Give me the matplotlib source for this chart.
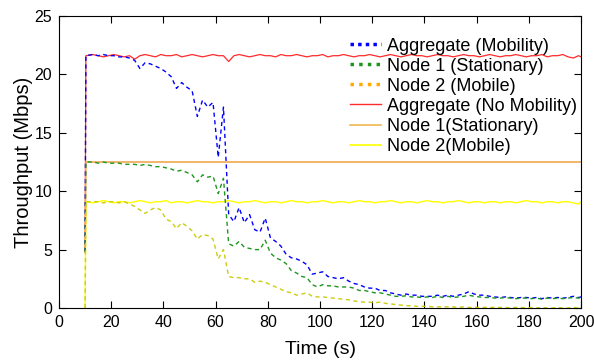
import matplotlib
matplotlib.use("Agg")
import matplotlib.pyplot as plt
from matplotlib.lines import Line2D

plt.rcParams['font.family'] = ['Liberation Sans', 'DejaVu Sans']

# time axis (s): traffic starts at 10 s, then samples every 2 s
time = [10, 10.3] + list(range(13, 200, 2)) + [200]

# dashed series: with mobility
agg_mob = [
    4.8, 21.6, 21.7, 21.6, 21.7, 21.6, 21.6, 21.5, 21.5, 21.4,
    21.2, 20.5, 21.0, 20.9, 20.7, 20.5, 20.2, 19.8, 18.8, 19.3,
    18.9, 18.6, 16.4, 17.8, 17.2, 17.6, 12.9, 17.2, 8.0, 7.4,
    8.6, 7.3, 8.0, 6.7, 6.5, 7.7, 6.0, 5.7, 5.3, 4.6,
    4.3, 4.2, 4.0, 3.7, 2.9, 3.0, 3.1, 2.7, 2.6, 2.5,
    2.6, 2.3, 2.1, 2.0, 1.8, 1.7, 1.7, 1.5, 1.5, 1.3,
    1.2, 1.1, 1.2, 1.1, 1.1, 1.0, 1.0, 1.0, 1.1, 1.0,
    1.1, 1.0, 1.1, 1.2, 1.4, 1.2, 1.1, 1.1, 1.0, 0.95,
    0.9, 0.95, 0.9, 0.85, 0.9, 0.9, 0.85, 0.9, 0.8, 0.9,
    0.85, 0.9, 0.85, 0.9, 1.0, 0.9, 0.95,
]
node1_mob = [
    4.8, 12.5, 12.5, 12.4, 12.5, 12.4, 12.4, 12.4, 12.3, 12.3,
    12.3, 12.2, 12.3, 12.2, 12.1, 12.1, 12.0, 11.9, 11.7, 11.8,
    11.6, 11.4, 10.8, 11.4, 11.2, 11.3, 9.8, 11.1, 5.5, 5.3,
    5.7, 5.2, 5.1, 5.0, 5.0, 5.8, 4.7, 4.3, 4.1, 3.8,
    3.2, 3.0, 2.7, 2.6, 2.0, 1.8, 2.0, 1.9, 1.9, 1.8,
    1.8, 1.8, 1.7, 1.5, 1.5, 1.4, 1.3, 1.3, 1.2, 1.1,
    1.0, 1.0, 1.05, 0.95, 0.95, 0.9, 0.95, 0.9, 1.0, 0.9,
    1.0, 0.9, 0.95, 1.0, 1.1, 1.0, 0.95, 0.9, 0.9, 0.85,
    0.85, 0.9, 0.85, 0.8, 0.85, 0.85, 0.8, 0.85, 0.75, 0.85,
    0.8, 0.85, 0.8, 0.85, 0.9, 0.85, 0.9,
]
node2_mob = [
    0.0, 9.1, 9.1, 9.1, 9.0, 9.1, 9.1, 9.0, 9.1, 8.9,
    8.7, 8.4, 8.1, 8.4, 8.6, 8.4, 7.6, 7.4, 6.8, 7.3,
    7.0, 6.6, 5.9, 6.3, 6.2, 5.9, 4.2, 5.0, 2.7, 2.6,
    2.6, 2.5, 2.5, 2.2, 2.3, 2.2, 2.0, 1.8, 1.6, 1.4,
    1.3, 1.1, 1.2, 1.3, 1.0, 0.95, 0.95, 0.9, 0.85, 0.8,
    0.75, 0.7, 0.6, 0.55, 0.5, 0.5, 0.45, 0.5, 0.4, 0.35,
    0.3, 0.25, 0.2, 0.2, 0.15, 0.15, 0.15, 0.1, 0.1, 0.1,
    0.1, 0.1, 0.05, 0.1, 0.05, 0.05, 0.05, 0.05, 0.05, 0.05,
    0.05, 0.05, 0.0, 0.05, 0.05, 0.0, 0.05, 0.0, 0.05, 0.0,
    0.0, 0.05, 0.0, 0.0, 0.05, 0.0, 0.0,
]

# solid series: no mobility
agg_nomob = [
    4.8, 21.6, 21.7, 21.6, 21.5, 21.6, 21.7, 21.6, 21.5, 21.6,
    21.3, 21.6, 21.7, 21.6, 21.5, 21.7, 21.6, 21.6, 21.7, 21.5,
    21.6, 21.7, 21.6, 21.5, 21.6, 21.7, 21.6, 21.6, 21.1, 21.6,
    21.7, 21.6, 21.5, 21.6, 21.7, 21.6, 21.6, 21.5, 21.7, 21.6,
    21.6, 21.7, 21.6, 21.5, 21.6, 21.6, 21.7, 21.5, 21.6, 21.6,
    21.7, 21.6, 21.5, 21.6, 21.6, 21.7, 21.6, 21.5, 21.6, 21.7,
    21.6, 21.5, 21.6, 21.7, 21.6, 21.6, 21.5, 21.6, 21.7, 21.6,
    21.6, 21.5, 21.6, 21.7, 21.6, 21.6, 21.5, 21.6, 21.7, 21.6,
    21.5, 21.6, 21.6, 21.7, 21.6, 21.5, 21.6, 21.6, 21.7, 21.5,
    21.6, 21.6, 21.7, 21.5, 21.4, 21.6, 21.5,
]
node1_nomob = [4.8] + [12.5] * 96
node2_nomob = [
    0.0, 9.1, 9.0, 9.1, 9.2, 9.1, 9.0, 9.1, 9.1, 9.0,
    9.1, 9.2, 9.1, 9.0, 9.1, 9.1, 9.2, 9.0, 9.1, 9.1,
    9.0, 9.1, 9.2, 9.1, 9.1, 9.0, 9.1, 9.1, 9.2, 9.1,
    9.0, 9.1, 9.1, 9.2, 9.1, 9.0, 9.1, 9.1, 9.0, 9.1,
    9.2, 9.1, 9.1, 9.0, 9.1, 9.1, 9.2, 9.1, 9.0, 9.1,
    9.1, 9.0, 9.1, 9.2, 9.1, 9.1, 9.0, 9.1, 9.1, 9.2,
    9.1, 9.0, 9.1, 9.1, 9.0, 9.1, 9.2, 9.1, 9.1, 9.0,
    9.1, 9.1, 9.2, 9.1, 9.0, 9.1, 9.1, 9.0, 9.1, 9.1,
    9.0, 9.1, 9.1, 9.0, 9.1, 9.2, 9.1, 9.1, 9.0, 9.1,
    9.1, 9.0, 9.1, 9.1, 9.0, 8.9, 9.1,
]

labels = ["Aggregate (Mobility)", "Node 1 (Stationary)", "Node 2 (Mobile)",
          "Aggregate (No Mobility)", "Node 1(Stationary)", "Node 2(Mobile)"]

fig = plt.figure(figsize=(5.94, 3.6), dpi=100)
ax = fig.add_axes([0.0993, 0.1444, 0.879, 0.8112])

ax.plot(time, agg_nomob, color="#ff2a2a", lw=0.9)
ax.plot(time, node1_nomob, color="#f0a850", lw=1.2)
ax.plot(time, node2_nomob, color="#ffff00", lw=1.0)
ax.plot(time, agg_mob, color="#0000ff", lw=1.0, ls=(0, (3, 2.5)))
ax.plot(time, node1_mob, color="#1e961e", lw=1.0, ls=(0, (3, 2.5)))
ax.plot(time, node2_mob, color="#cccc10", lw=1.0, ls=(0, (3, 2.5)))

ax.set_xlim(0, 200)
ax.set_ylim(0, 25)
ax.set_xticks(range(0, 201, 20))
ax.set_yticks(range(0, 26, 5))
ax.tick_params(direction="in", top=True, right=True, labelsize=11.5, length=5, pad=5)
ax.set_xlabel("Time (s)", fontsize=14, labelpad=8)
ax.set_ylabel("Throughput (Mbps)", fontsize=14.5, labelpad=1)

# legend with dotted handles for the mobility series
handles = [
    Line2D([], [], color="#0000ff", lw=2.5, ls=(0, (1, 1.2))),
    Line2D([], [], color="#1e961e", lw=2.5, ls=(0, (1, 1.5))),
    Line2D([], [], color="#ffaa00", lw=2.5, ls=(0, (1, 1.5))),
    Line2D([], [], color="#ff2a2a", lw=1.0),
    Line2D([], [], color="#f0b850", lw=1.2),
    Line2D([], [], color="#ffff00", lw=1.2),
]
ax.legend(handles, labels, loc="upper left", bbox_to_anchor=(0.557, 0.926),
          frameon=False, fontsize=13, labelspacing=0.17, handlelength=1.75,
          handletextpad=0.3, borderaxespad=0, borderpad=0)

fig.savefig("out.png", dpi=100)
